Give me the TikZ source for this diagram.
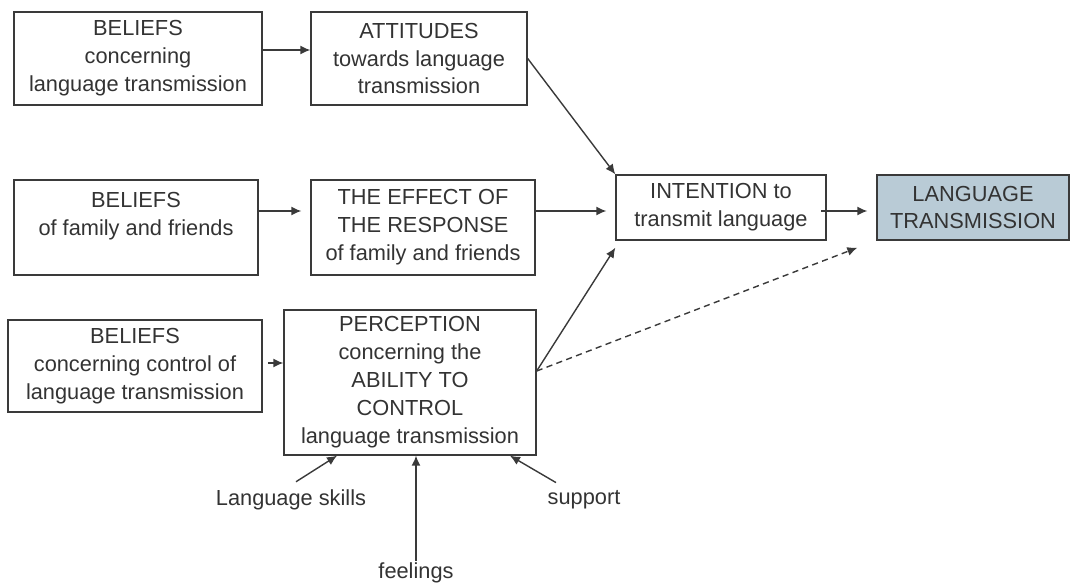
\documentclass[tikz,border=0pt]{standalone}
\usepackage{fontspec}
\setmainfont{Liberation Sans}
\usepackage{xcolor}
\usepackage{tikz}
\usetikzlibrary{arrows.meta}
\definecolor{linegray}{HTML}{3A3A3A}
\definecolor{textgray}{HTML}{333333}
\definecolor{ltfill}{HTML}{B9CBD6}
\tikzset{box/.style={draw=linegray, line width=0.8pt, align=center, inner sep=1pt,
    text=textgray, font=\fontsize{12.4}{15.9}\selectfont},
  lbl/.style={text=textgray, inner sep=1pt, font=\fontsize{12.4}{15.9}\selectfont},
  link/.style={draw=linegray, line width=0.8pt, -{Latex[length=2mm, width=1.8mm]}}}

\begin{document}
\begin{tikzpicture} [x=0.02cm, y=-0.02cm]
\useasboundingbox (0,0) rectangle (1070,585);
% boxes
\node[box, minimum width=4.96cm, minimum height=1.86cm] (beliefsA) at (138,58.5)
  {BELIEFS\\concerning\\language transmission};
\node[box, minimum width=4.32cm, minimum height=1.86cm] (attitudes) at (419,58.5)
  {ATTITUDES\\towards language\\transmission};
\node[box, minimum width=4.88cm, minimum height=1.9cm] (beliefsB) at (136,227.5)
  {BELIEFS\\of family and friends\\\mbox{}};
\node[box, minimum width=4.48cm, minimum height=1.9cm] (effect) at (423,227.5)
  {THE EFFECT OF\\THE RESPONSE\\of family and friends};
\node[box, minimum width=4.2cm, minimum height=1.3cm] (intention) at (721,207.5)
  {INTENTION to\\transmit language};
\node[box, fill=ltfill, minimum width=3.84cm, minimum height=1.3cm] (transm) at (973,207.5)
  {LANGUAGE\\TRANSMISSION};
\node[box, minimum width=5.08cm, minimum height=1.84cm] (beliefsC) at (135,366)
  {BELIEFS\\concerning control of\\language transmission};
\node[box, minimum width=5.04cm, minimum height=2.9cm] (perception) at (410,382.5)
  {PERCEPTION\\concerning the\\ABILITY TO\\CONTROL\\language transmission};
% factors below
\node[lbl] (skills) at (291,500) {Language skills};
\node[lbl] (support) at (584,500) {support};
\node[lbl] (feelings) at (416,573) {feelings};
% arrows
\coordinate (row) at ([yshift=-0.07cm]intention.west);
\coordinate (fork) at ([yshift=0.23cm]perception.east);
\coordinate (ctrl) at ([yshift=0.06cm]beliefsC.east);
\draw[link] ([yshift=0.17cm]beliefsA.east) -- ([yshift=0.17cm]attitudes.west);
\draw[link, shorten >=0.18cm] (beliefsB.east |- row) -- (effect.west |- row);
\draw[link, shorten >=0.18cm] (effect.east |- row) -- (row);
\draw[link, shorten >=0.18cm] ([xshift=-3pt]intention.east |- row) -- (transm.west |- row);
\draw[link] (attitudes.east) -- (intention.north west);
\draw[link, shorten <=3pt] (ctrl) -- (perception.west |- ctrl);
\draw[link] (fork) -- ([yshift=-0.14cm]intention.south west);
\draw[link, dash pattern=on 3.5pt off 2.5pt] (fork) -- ([xshift=-0.38cm, yshift=-0.14cm]transm.south west);
\draw[link] ([xshift=0.1cm, yshift=0.12cm]skills.north) -- ([xshift=-1.46cm]perception.south);
\draw[link] ([xshift=-0.56cm, yshift=0.12cm]support.north) -- ([xshift=2cm]perception.south);
\draw[link] (feelings.north) -- (feelings.north |- perception.south);
\end{tikzpicture}
\end{document}
